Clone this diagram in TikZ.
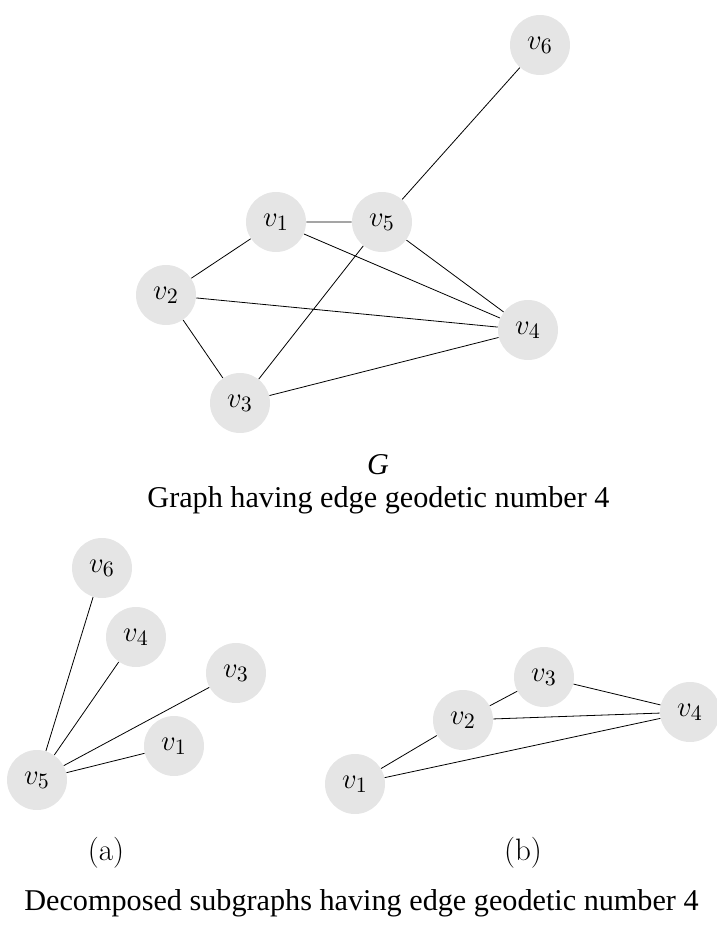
\documentclass[tikz,border=0pt]{standalone}
\usepackage{fontspec}
\newfontfamily\capfont{Liberation Serif}
\definecolor{vertgray}{RGB}{229,229,229}
\begin{document}
\begin{tikzpicture}[x=0.5pt,y=-0.5pt,font=\fontsize{15.5}{18}\selectfont,
	vert/.style={circle,fill=vertgray,minimum size=30pt,inner sep=0pt},
	captext/.style={font=\fontsize{15.1}{18}\selectfont\capfont}]
	\useasboundingbox (0,0) rectangle (717,928);
	% graph G
	\node[vert] (v6) at (540,45) {$v_6$};
	\node[vert] (v1) at (276,222) {$v_1$};
	\node[vert] (v5) at (382,222) {$v_5$};
	\node[vert] (v2) at (166,295) {$v_2$};
	\node[vert] (v4) at (528,330) {$v_4$};
	\node[vert] (v3) at (240,403) {$v_3$};
	\draw (v1)--(v5) (v1)--(v2) (v1)--(v4) (v5)--(v6) (v5)--(v4) (v5)--(v3)
		(v2)--(v4) (v2)--(v3) (v3)--(v4);
	\node[captext] (g) at (378,465) {\itshape G};
	\node[captext] (capG) at (378.5,500) {Graph having edge geodetic number 4};
	% subgraph (a)
	\node[vert] (a6) at (102,568) {$v_6$};
	\node[vert] (a4) at (136,637) {$v_4$};
	\node[vert] (a3) at (236,673) {$v_3$};
	\node[vert] (a1) at (174,746) {$v_1$};
	\node[vert] (a5) at (37,780) {$v_5$};
	\draw (a5)--(a6) (a5)--(a4) (a5)--(a3) (a5)--(a1);
	\node (la) at (106,853) {(a)};
	% subgraph (b)
	\node[vert] (b3) at (544,677) {$v_3$};
	\node[vert] (b2) at (463,720) {$v_2$};
	\node[vert] (b4) at (690,712) {$v_4$};
	\node[vert] (b1) at (355,784) {$v_1$};
	\draw (b2)--(b3) (b3)--(b4) (b2)--(b4) (b2)--(b1) (b1)--(b4);
	\node (lb) at (523,853) {(b)};
	\node[captext] (capD) at (361.5,903) {Decomposed subgraphs having edge geodetic number 4};
\end{tikzpicture}
\end{document}
